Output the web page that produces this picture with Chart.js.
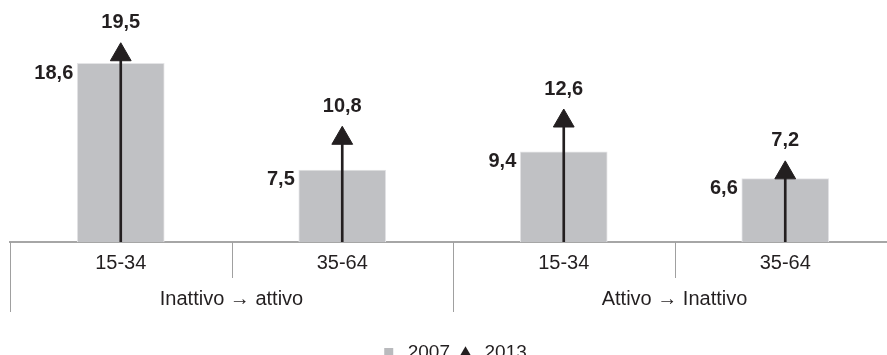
<!DOCTYPE html>
<html>
<head>
<meta charset="utf-8">
<script src="https://cdn.jsdelivr.net/npm/chart.js@4.4.0/dist/chart.umd.min.js"></script>
<style>
  html, body { margin: 0; padding: 0; background: #fff; overflow: hidden; }
  canvas { display: block; }
</style>
</head>
<body>
<canvas id="chart" width="896" height="372"></canvas>
<script>
// Chart data
const categories = ['15-34', '35-64', '15-34', '35-64'];
const groups = ['Inattivo \u2192 attivo', 'Attivo \u2192 Inattivo'];
const values2007 = [18.6, 7.5, 9.4, 6.6];
const values2013 = [19.5, 10.8, 12.6, 7.2];
const seriesNames = ['2007', '2013'];

const textColor = '#231f20';
const barColor = '#c0c1c4';
const fontFamily = '"Liberation Sans", Arial, sans-serif';

// format numbers with decimal comma
function fmt(v) {
    return v.toFixed(1).replace('.', ',');
}

// draws group labels, separators and value labels
const annotationsPlugin = {
    id: 'annotations',
    afterDraw(chart) {
        const ctx = chart.ctx;
        const area = chart.chartArea;
        const x = chart.scales.x;
        const half = (x.getPixelForValue(1) - x.getPixelForValue(0)) / 2;
        const axisY = area.bottom;

        ctx.save();
        // vertical separators
        ctx.strokeStyle = '#a0a0a0';
        ctx.lineWidth = 1;
        categories.forEach((c, i) => {
            const px = Math.round(x.getPixelForValue(i) - half) + 0.5;
            const long = i % 2 === 0;
            ctx.beginPath();
            ctx.moveTo(px, axisY);
            ctx.lineTo(px, axisY + (long ? 70 : 36));
            ctx.stroke();
        });

        // group labels
        ctx.fillStyle = textColor;
        ctx.font = '20px ' + fontFamily;
        ctx.textAlign = 'center';
        ctx.textBaseline = 'middle';
        groups.forEach((g, gi) => {
            const left = x.getPixelForValue(gi * 2) - half;
            const right = x.getPixelForValue(gi * 2 + 1) + half;
            ctx.fillText(g, (left + right) / 2, axisY + 57);
        });

        // value labels
        ctx.font = 'bold 20px ' + fontFamily;
        const barMeta = chart.getDatasetMeta(0);
        barMeta.data.forEach((bar, i) => {
            const left = bar.x - bar.width / 2;
            ctx.textAlign = 'right';
            ctx.fillText(fmt(values2007[i]), left - 4, bar.y + 10);
        });
        const pointMeta = chart.getDatasetMeta(2);
        pointMeta.data.forEach((pt, i) => {
            ctx.textAlign = 'center';
            ctx.fillText(fmt(values2013[i]), pt.x, pt.y - 32);
        });
        ctx.restore();
    }
};

const ctx = document.getElementById('chart').getContext('2d');
new Chart(ctx, {
    type: 'bar',
    data: {
        labels: categories,
        datasets: [{
            label: seriesNames[0],
            data: values2007,
            backgroundColor: barColor,
            borderColor: '#e4e4e6',
            borderWidth: 1,
            barThickness: 87,
            grouped: false,
            order: 3
        }, {
            label: 'stem',
            data: values2013.map(v => [0, v]),
            backgroundColor: textColor,
            barThickness: 2,
            grouped: false,
            order: 2
        }, {
            type: 'line',
            label: seriesNames[1],
            data: values2013,
            showLine: false,
            pointStyle: 'triangle',
            pointRadius: 12,
            pointHoverRadius: 12,
            backgroundColor: textColor,
            borderColor: textColor,
            borderWidth: 1,
            order: 1
        }]
    },
    options: {
        responsive: false,
        animation: false,
        layout: {
            autoPadding: false,
            padding: { left: 10, right: 0, top: 0, bottom: 0 }
        },
        scales: {
            x: {
                grid: { display: false },
                border: { display: true, color: '#a6a6a6', width: 2 },
                ticks: {
                    color: textColor,
                    font: { family: fontFamily, size: 20 },
                    padding: 1,
                    maxRotation: 0
                },
                afterFit(scale) {
                    scale.height = 95;
                }
            },
            y: {
                display: false,
                min: 0,
                max: 25.2
            }
        },
        plugins: {
            tooltip: { enabled: false },
            legend: {
                position: 'bottom',
                labels: {
                    color: textColor,
                    font: { family: fontFamily, size: 19 },
                    usePointStyle: true,
                    boxHeight: 9,
                    padding: 6,
                    generateLabels(chart) {
                        return [{
                            text: seriesNames[0],
                            fillStyle: '#b9babd',
                            strokeStyle: '#b9babd',
                            lineWidth: 0,
                            pointStyle: 'rect',
                            fontColor: textColor,
                            datasetIndex: 0
                        }, {
                            text: seriesNames[1],
                            fillStyle: textColor,
                            strokeStyle: textColor,
                            lineWidth: 0,
                            pointStyle: 'triangle',
                            fontColor: textColor,
                            datasetIndex: 2
                        }];
                    }
                }
            }
        }
    },
    plugins: [annotationsPlugin]
});
</script>
</body>
</html>
